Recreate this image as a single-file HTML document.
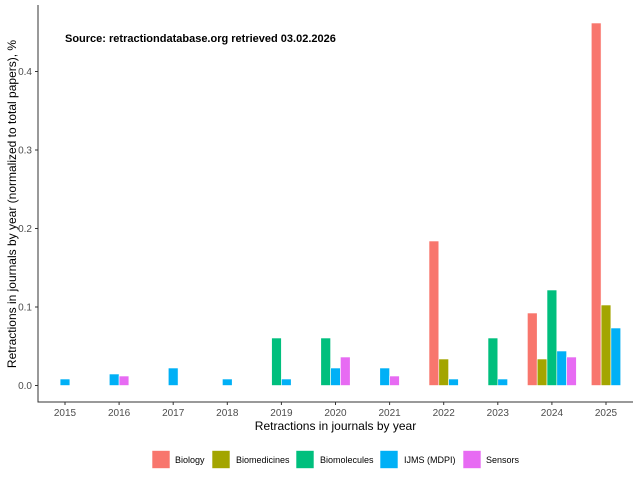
<!DOCTYPE html>
<html><head><meta charset="utf-8"><style>
body{margin:0;background:#fff}
svg{display:block;font-family:"Liberation Sans",Arial,sans-serif}
</style></head><body>
<svg width="640" height="480" viewBox="0 0 640 480" xmlns="http://www.w3.org/2000/svg">
<rect width="640" height="480" fill="#fff"/>
<g stroke="#fff" stroke-width="0.6">
<rect x="60.1" y="379" width="9.8" height="6.5" fill="#00B0F6"/>
<rect x="109.3" y="374" width="9.8" height="11.5" fill="#00B0F6"/>
<rect x="119.1" y="376" width="9.8" height="9.5" fill="#E76BF3"/>
<rect x="168.3" y="368" width="9.8" height="17.5" fill="#00B0F6"/>
<rect x="222.4" y="379" width="9.8" height="6.5" fill="#00B0F6"/>
<rect x="271.6" y="338" width="9.8" height="47.5" fill="#00BF7D"/>
<rect x="281.4" y="379" width="9.8" height="6.5" fill="#00B0F6"/>
<rect x="320.8" y="338" width="9.8" height="47.5" fill="#00BF7D"/>
<rect x="330.6" y="368" width="9.8" height="17.5" fill="#00B0F6"/>
<rect x="340.4" y="357" width="9.8" height="28.5" fill="#E76BF3"/>
<rect x="379.8" y="368" width="9.8" height="17.5" fill="#00B0F6"/>
<rect x="389.6" y="376" width="9.8" height="9.5" fill="#E76BF3"/>
<rect x="429.0" y="241" width="9.8" height="144.5" fill="#F8766D"/>
<rect x="438.8" y="359" width="9.8" height="26.5" fill="#A3A500"/>
<rect x="448.6" y="379" width="9.8" height="6.5" fill="#00B0F6"/>
<rect x="488.0" y="338" width="9.8" height="47.5" fill="#00BF7D"/>
<rect x="497.8" y="379" width="9.8" height="6.5" fill="#00B0F6"/>
<rect x="527.4" y="313" width="9.8" height="72.5" fill="#F8766D"/>
<rect x="537.2" y="359" width="9.8" height="26.5" fill="#A3A500"/>
<rect x="547.0" y="290" width="9.8" height="95.5" fill="#00BF7D"/>
<rect x="556.8" y="351" width="9.8" height="34.5" fill="#00B0F6"/>
<rect x="566.6" y="357" width="9.8" height="28.5" fill="#E76BF3"/>
<rect x="591.3" y="23" width="9.8" height="362.5" fill="#F8766D"/>
<rect x="601.1" y="305" width="9.8" height="80.5" fill="#A3A500"/>
<rect x="610.9" y="328" width="9.8" height="57.5" fill="#00B0F6"/>
</g>
<g stroke="#333" stroke-width="1">
<line x1="38" y1="5" x2="38" y2="402.5"/>
<line x1="38" y1="402" x2="633" y2="402"/>
<line x1="35" y1="385.5" x2="38" y2="385.5"/>
<line x1="35" y1="307" x2="38" y2="307"/>
<line x1="35" y1="228.5" x2="38" y2="228.5"/>
<line x1="35" y1="150" x2="38" y2="150"/>
<line x1="35" y1="71.5" x2="38" y2="71.5"/>
<line x1="65" y1="402" x2="65" y2="405"/>
<line x1="119.1" y1="402" x2="119.1" y2="405"/>
<line x1="173.2" y1="402" x2="173.2" y2="405"/>
<line x1="227.3" y1="402" x2="227.3" y2="405"/>
<line x1="281.4" y1="402" x2="281.4" y2="405"/>
<line x1="335.5" y1="402" x2="335.5" y2="405"/>
<line x1="389.6" y1="402" x2="389.6" y2="405"/>
<line x1="443.7" y1="402" x2="443.7" y2="405"/>
<line x1="497.8" y1="402" x2="497.8" y2="405"/>
<line x1="551.9" y1="402" x2="551.9" y2="405"/>
<line x1="606" y1="402" x2="606" y2="405"/>
</g>
<g font-size="10" fill="#4d4d4d" text-anchor="end">
<text x="32" y="389">0.0</text>
<text x="32" y="310.5">0.1</text>
<text x="32" y="232">0.2</text>
<text x="32" y="153.5">0.3</text>
<text x="32" y="75">0.4</text>
</g>
<g font-size="10" fill="#4d4d4d" text-anchor="middle">
<text x="65" y="416">2015</text>
<text x="119.1" y="416">2016</text>
<text x="173.2" y="416">2017</text>
<text x="227.3" y="416">2018</text>
<text x="281.4" y="416">2019</text>
<text x="335.5" y="416">2020</text>
<text x="389.6" y="416">2021</text>
<text x="443.7" y="416">2022</text>
<text x="497.8" y="416">2023</text>
<text x="551.9" y="416">2024</text>
<text x="606" y="416">2025</text>
</g>
<text x="335.5" y="430" font-size="12" text-anchor="middle" fill="#000">Retractions in journals by year</text>
<text transform="translate(16,204) rotate(-90)" font-size="12" text-anchor="middle" fill="#000">Retractions in journals by year (normalized to total papers), %</text>
<text x="65" y="42" font-size="11" font-weight="bold" fill="#000">Source: retractiondatabase.org retrieved 03.02.2026</text>
<g stroke="#fff" stroke-width="0.6">
<rect x="152" y="450.5" width="18" height="18" fill="#F8766D"/>
<rect x="212" y="450.5" width="18" height="18" fill="#A3A500"/>
<rect x="296" y="450.5" width="18" height="18" fill="#00BF7D"/>
<rect x="380" y="450.5" width="18" height="18" fill="#00B0F6"/>
<rect x="463" y="450.5" width="18" height="18" fill="#E76BF3"/>
</g>
<g font-size="9" fill="#000">
<text x="175" y="463">Biology</text>
<text x="236" y="463">Biomedicines</text>
<text x="320" y="463">Biomolecules</text>
<text x="404" y="463">IJMS (MDPI)</text>
<text x="486" y="463">Sensors</text>
</g>
</svg>
</body></html>
